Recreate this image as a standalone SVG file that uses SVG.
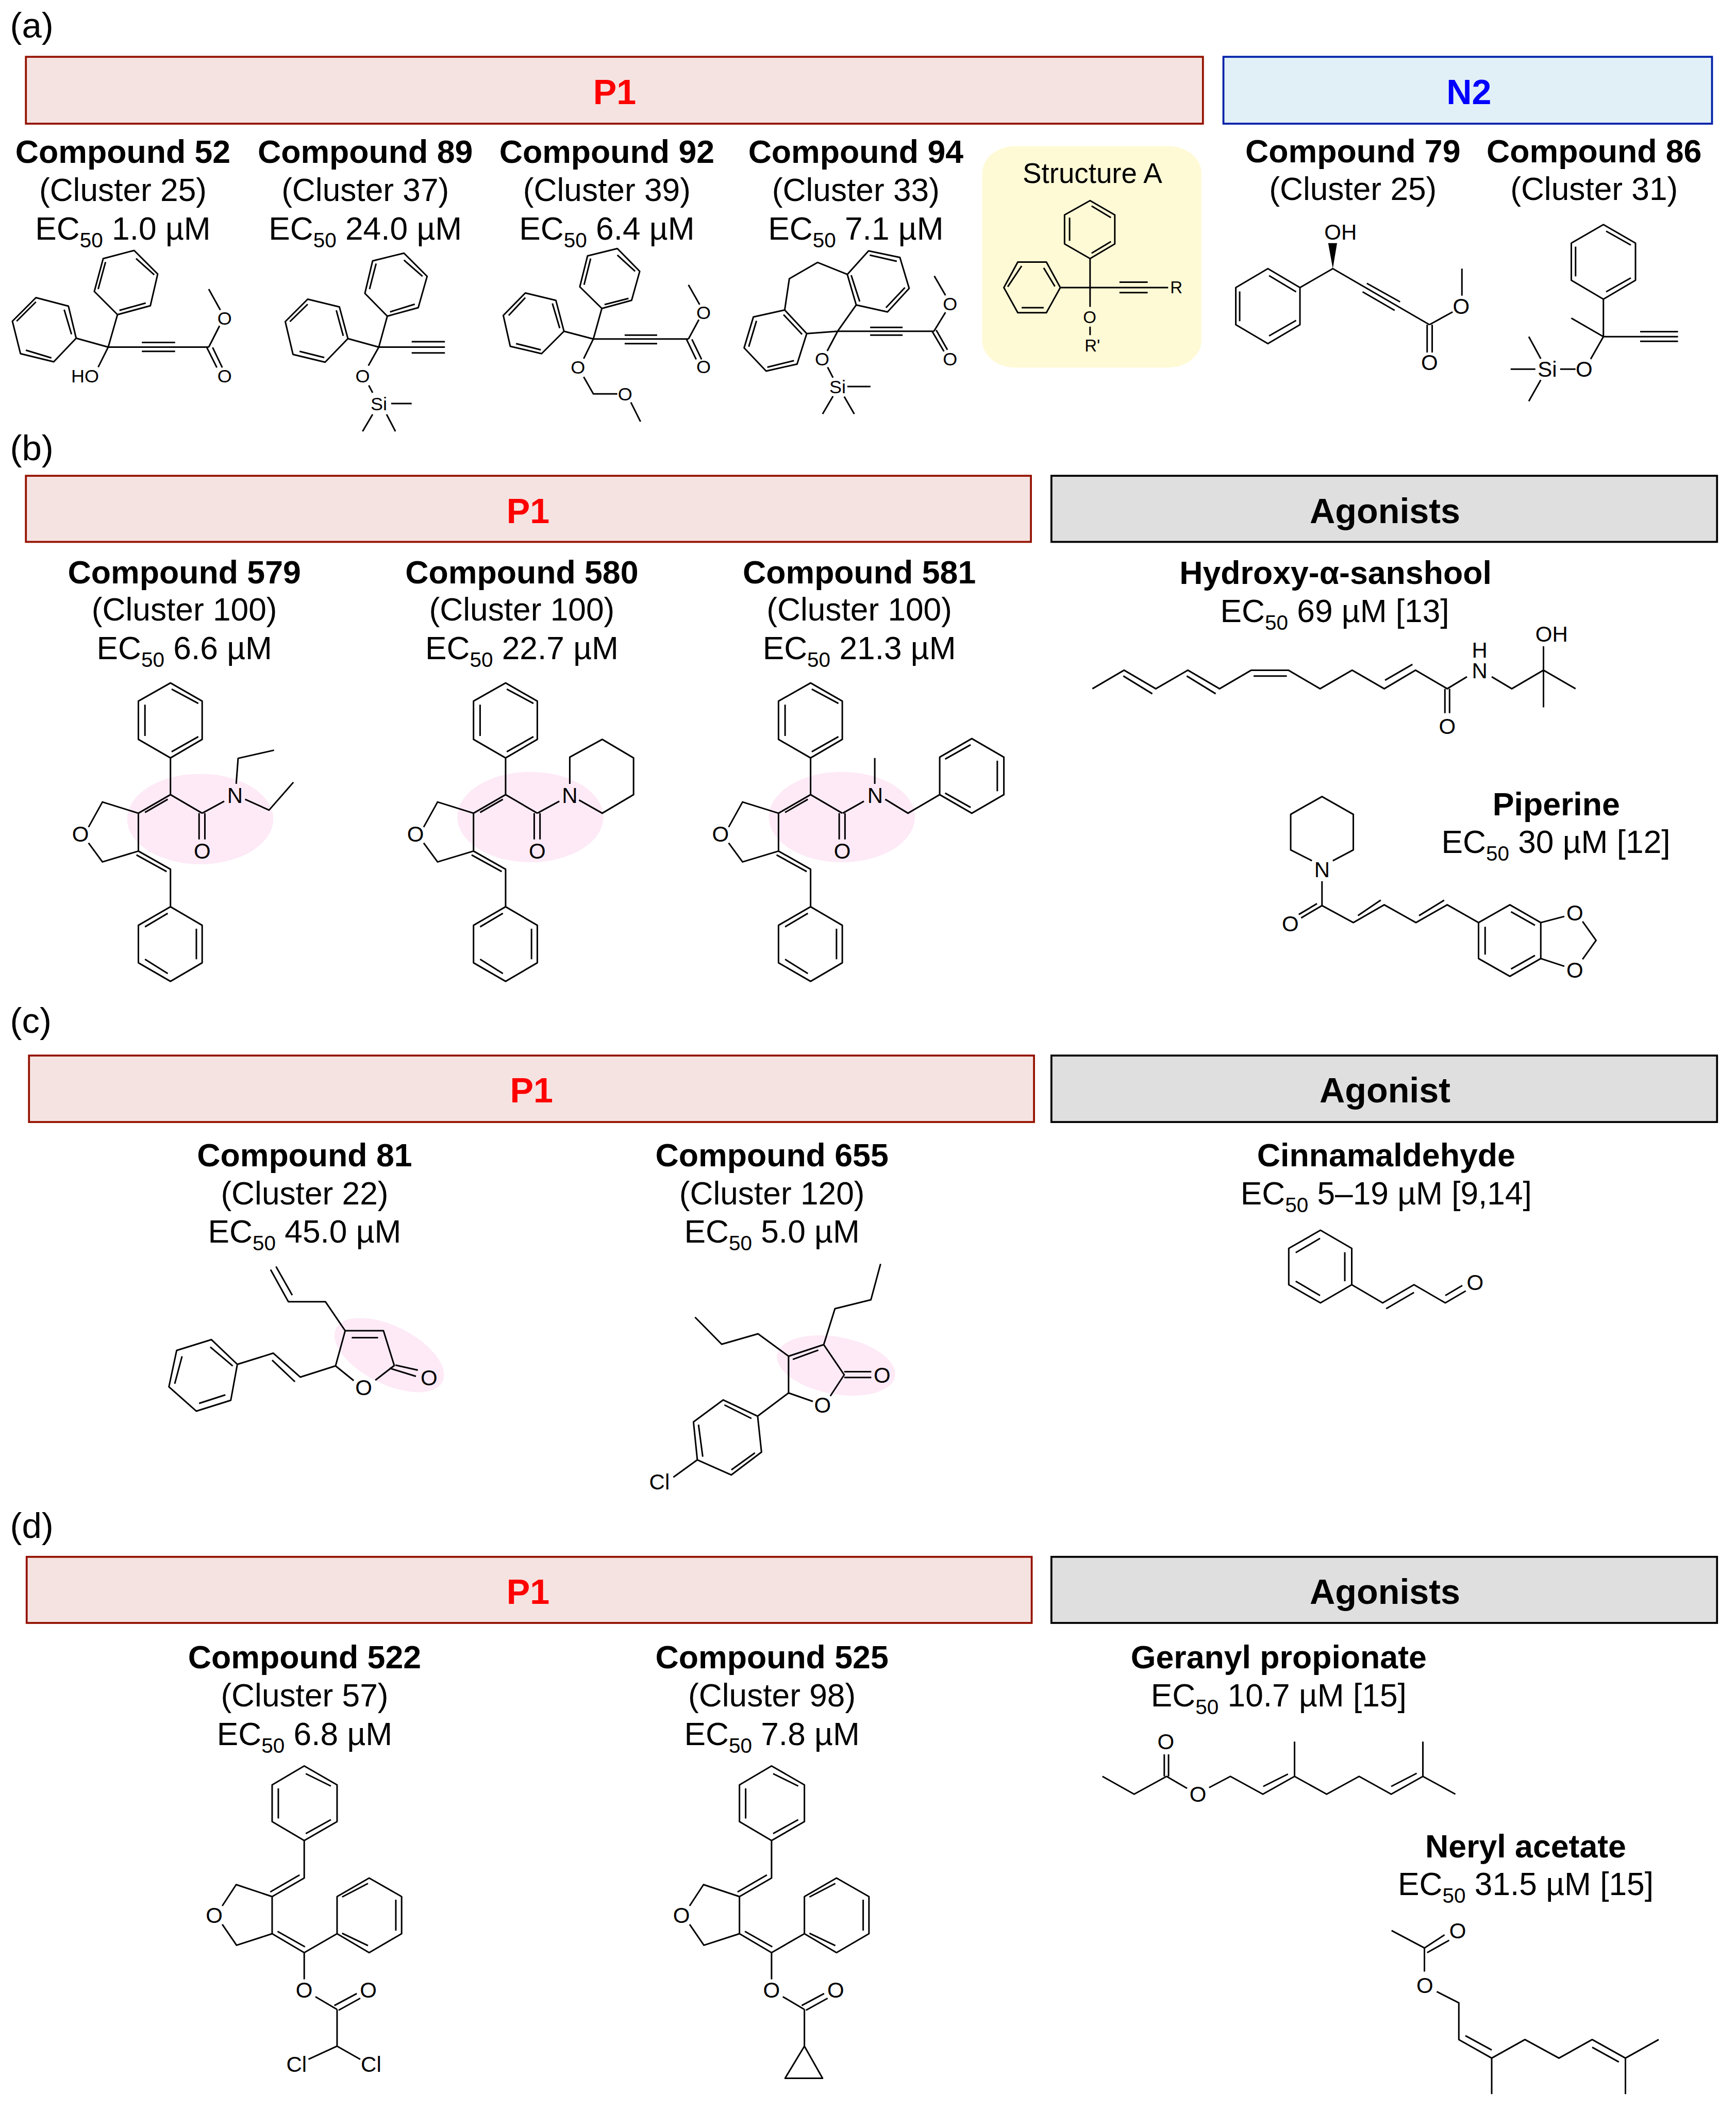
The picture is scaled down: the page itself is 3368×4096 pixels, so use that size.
<svg xmlns="http://www.w3.org/2000/svg" width="3368" height="4096" viewBox="0 0 3368 4096">
<style>
text{font-family:"Liberation Sans",Arial,sans-serif;fill:#000;text-anchor:middle}
.h{font-size:91px;font-weight:bold}
.n{font-size:83.5px;font-weight:bold}
.r{font-size:83px}
.s{font-size:54px}
.l{font-size:92px;text-anchor:start}
.a1{font-size:48px}
.a2{font-size:44px}
.a3{font-size:56px}
.b{fill:none;stroke:#000;stroke-width:4;stroke-linejoin:round}
.p1{fill:#f5e3e1;stroke:#941100;stroke-width:5}
.n2{fill:#e1f0f6;stroke:#0020a8;stroke-width:5}
.ag{fill:#dfdfdf;stroke:#000;stroke-width:5}
.pk{fill:#fdeaf6}
</style>
<defs>
<path id="bcore" class="b" d="M441 1767L523 1814V1913L441 1961L358 1913V1814ZM444 1783L513 1820M375 1823V1904M513 1906L444 1945M441 1961V2056L358 2104M434 2068L375 2102M441 2056L523 2104M358 2104L265 2075L229 2140M229 2181L265 2230L358 2202V2104M358 2202L441 2249V2346M353 2212L431 2255M441 2346L523 2394V2491L441 2539L358 2491V2394ZM375 2398L434 2363M508 2403V2482M375 2482L434 2519M515 2104V2172M530 2104V2172"/>
<path id="dcore" class="b" d="M787 4569L872 4618V4713L787 4762L704 4713V4618ZM791 4589L856 4621M720 4627V4705M856 4708L791 4744M787 4762V4859L704 4907M775 4851L699 4895M704 4907L611 4876L575 4931M575 4979L612 5033L704 5003V4907M704 5003L787 5052M718 4997L789 5037M787 5052L872 5003M872 5003V4907L955 4859L1039 4907V5003L955 5052L872 5003M885 4908L952 4873M1024 4915V4995M885 5002L952 5034M787 5052V5121M816 5166L872 5199M876 5201L932 5170M865 5189L923 5158M872 5199V5294"/>
</defs>
<g transform="scale(.74994)">
<g id="panel-a">
<text class="l" x="26" y="98">(a)</text>
<g id="hdr-a-p1"><rect class="p1" x="67" y="147" width="3045" height="173"/><text class="h" x="1590" y="269" style="fill:#f00">P1</text></g>
<g id="hdr-a-n2"><rect class="n2" x="3165" y="147" width="1264" height="173"/><text class="h" x="3800" y="269" style="fill:#00f">N2</text></g>

<g id="cmp52">
<text class="n" x="318" y="422">Compound 52</text><text class="r" x="318" y="520">(Cluster 25)</text>
<text class="r" x="318" y="620">EC<tspan class="s" dy="20">50</tspan><tspan dy="-20"> 1.0 µM</tspan></text>
<path class="b" d="M347 648L408 709L389 791L304 814L244 754L267 669ZM352 669L399 711M273 678L254 748M309 803L377 784M304 814L280 898L197 875L177 792L93 770L32 831L53 915L139 936L197 875M185 865L166 801M93 781L43 831M67 906L133 926M280 898L254 950M280 898H540M367 886H453M367 909H453M540 898L568 843M570 802L540 748M535 899L561 951M550 899L575 951"/>
<text class="a1" x="220" y="990">HO</text><text class="a1" x="581" y="840">O</text><text class="a1" x="581" y="990">O</text>
</g>

<g id="cmp89">
<text class="n" x="945" y="422">Compound 89</text><text class="r" x="945" y="520">(Cluster 37)</text>
<text class="r" x="945" y="620">EC<tspan class="s" dy="20">50</tspan><tspan dy="-20"> 24.0 µM</tspan></text>
<path class="b" d="M1045 655L1105 715L1082 796L1002 818L944 759L964 675ZM1045 673L1093 715M973 682L956 748M1009 807L1073 787M1002 818L980 898L900 876L878 794L796 774L738 832L758 917L841 937L900 876M888 869L870 803M796 787L750 832M775 909L839 925M980 898H1151M1065 884H1151M1065 913H1151M980 898L953 946M954 997L964 1016M1012 1044H1065M964 1072L938 1116M1000 1072L1023 1116"/>
<text class="a1" x="938" y="989">O</text><text class="a1" x="980" y="1062">Si</text>
</g>

<g id="cmp92">
<text class="n" x="1570" y="422">Compound 92</text><text class="r" x="1570" y="520">(Cluster 39)</text>
<text class="r" x="1570" y="620">EC<tspan class="s" dy="20">50</tspan><tspan dy="-20"> 6.4 µM</tspan></text>
<path class="b" d="M1597 643L1655 702L1634 777L1557 798L1500 742L1520 662ZM1597 660L1643 702M1528 669L1511 737M1564 788L1626 772M1557 798L1535 877L1459 857L1438 777L1359 758L1302 816L1320 896L1401 915L1459 857M1448 849L1429 785M1359 770L1316 816M1335 889L1399 905M1535 877H1781M1616 867H1700M1616 889H1700M1781 877L1808 827M1810 788L1781 737M1776 878L1801 930M1790 878L1815 930M1535 877L1510 928M1510 975L1535 1019H1597M1632 1041L1657 1091"/>
<text class="a1" x="1820" y="826">O</text><text class="a1" x="1820" y="965">O</text><text class="a1" x="1495" y="967">O</text><text class="a1" x="1617" y="1036">O</text>
</g>

<g id="cmp94">
<text class="n" x="2214" y="422">Compound 94</text><text class="r" x="2214" y="520">(Cluster 33)</text>
<text class="r" x="2214" y="620">EC<tspan class="s" dy="20">50</tspan><tspan dy="-20"> 7.1 µM</tspan></text>
<path class="b" d="M2247 649L2328 666L2352 746L2296 807L2215 789L2192 710ZM2250 660L2320 676M2341 744L2292 796M2224 780L2202 712M2192 710L2115 679L2042 721L2030 802L2087 863L2062 942L1982 960L1925 900L1949 820L2030 802M2027 814L2075 865M2054 933L1985 950M1937 897L1957 830M2087 863L2167 857L2215 789M2167 857H2416M2251 847H2335M2251 867H2335M2416 857L2446 808M2446 764L2417 714M2412 858L2442 909M2422 854L2451 905M2167 857L2140 908M2141 950L2155 977M2192 1000H2252M2155 1025L2128 1071M2184 1026L2210 1071"/>
<text class="a1" x="2458" y="803">O</text><text class="a1" x="2458" y="945">O</text><text class="a1" x="2127" y="945">O</text><text class="a1" x="2167" y="1018">Si</text>
</g>

<g id="structure-a">
<rect x="2541" y="378" width="567" height="573" rx="85" ry="70" fill="#fffad6"/>
<text x="2826" y="473" style="font-size:73px">Structure A</text>
<path class="b" d="M2820 519L2884 556V631L2820 669L2754 631V556ZM2824 533L2874 563M2767 563V623M2874 625L2824 655M2820 669V794M2743 744L2707 678H2633L2597 744L2633 809H2707ZM2700 693L2729 741M2607 742L2643 688M2643 796H2700M2743 744H3022M2896 730H2969M2896 757H2969M2820 845V867"/>
<text class="a2" x="3043" y="759">R</text><text class="a2" x="2819" y="836">O</text><text class="a2" x="2826" y="909">R'</text>
</g>

<g id="cmp79">
<text class="n" x="3500" y="420">Compound 79</text><text class="r" x="3500" y="518">(Cluster 25)</text>
<path d="M3448 695L3436 629H3459Z"/>
<path class="b" d="M3280 695L3363 744V840L3280 889L3197 840V744ZM3283 713L3353 755M3207 754V831M3353 829L3283 869M3363 744L3448 695L3698 840M3536 733L3622 781M3525 755L3608 803M3698 840L3758 807M3782 765V695M3692 840V912M3705 840V912"/>
<text class="a3" x="3468" y="620">OH</text><text class="a3" x="3780" y="812">O</text><text class="a3" x="3698" y="957">O</text>
</g>

<g id="cmp86">
<text class="n" x="4124" y="420">Compound 86</text><text class="r" x="4124" y="518">(Cluster 31)</text>
<path class="b" d="M4148 581L4231 629V725L4148 774L4065 725V629ZM4155 598L4219 634M4076 638V715M4219 719L4155 755M4148 774V871L4065 823M4148 871H4341M4243 858H4341M4243 883H4341M4148 871L4115 929M4076 955H4036M3972 955H3908M3986 928L3955 871M3986 983L3955 1038"/>
<text class="a3" x="4098" y="975">O</text><text class="a3" x="4003" y="975">Si</text>
</g>
</g>

<g id="panel-b">
<text class="l" x="26" y="1191">(b)</text>
<g id="hdr-b-p1"><rect class="p1" x="67" y="1231" width="2600" height="171"/><text class="h" x="1366" y="1353" style="fill:#f00">P1</text></g>
<g id="hdr-b-ag"><rect class="ag" x="2720" y="1231" width="1722" height="171"/><text class="h" x="3583" y="1353">Agonists</text></g>

<g id="cmp579">
<text class="n" x="477" y="1509">Compound 579</text><text class="r" x="477" y="1606">(Cluster 100)</text>
<text class="r" x="477" y="1706">EC<tspan class="s" dy="20">50</tspan><tspan dy="-20"> 6.6 µM</tspan></text>
<ellipse class="pk" cx="518" cy="2119" rx="189" ry="117"/>
<use href="#bcore"/>
<path class="b" d="M523 2104L580 2073M611 2028L616 1962L709 1941M634 2068L696 2096L759 2024"/>
<text class="a3" x="208" y="2178">O</text><text class="a3" x="523" y="2221">O</text><text class="a3" x="608" y="2077">N</text>
</g>

<g id="cmp580">
<text class="n" x="1350" y="1509">Compound 580</text><text class="r" x="1350" y="1606">(Cluster 100)</text>
<text class="r" x="1350" y="1706">EC<tspan class="s" dy="20">50</tspan><tspan dy="-20"> 22.7 µM</tspan></text>
<ellipse class="pk" cx="1372" cy="2114" rx="189" ry="117"/>
<use href="#bcore" x="867"/>
<path class="b" d="M1390 2104L1447 2073M1474 2028V1959L1558 1913L1639 1961V2056L1558 2104L1498 2070"/>
<text class="a3" x="1075" y="2178">O</text><text class="a3" x="1390" y="2221">O</text><text class="a3" x="1474" y="2077">N</text>
</g>

<g id="cmp581">
<text class="n" x="2223" y="1509">Compound 581</text><text class="r" x="2223" y="1606">(Cluster 100)</text>
<text class="r" x="2223" y="1706">EC<tspan class="s" dy="20">50</tspan><tspan dy="-20"> 21.3 µM</tspan></text>
<ellipse class="pk" cx="2178" cy="2114" rx="189" ry="117"/>
<use href="#bcore" x="1656"/>
<path class="b" d="M2180 2104L2235 2073M2263 2028V1961M2290 2068L2349 2104L2431 2056V1959L2514 1911L2597 1959V2056L2514 2104L2431 2056M2445 1964L2511 1927M2580 1968V2047M2445 2052L2511 2089"/>
<text class="a3" x="1864" y="2178">O</text><text class="a3" x="2179" y="2221">O</text><text class="a3" x="2264" y="2077">N</text>
</g>

<g id="sanshool">
<text class="n" x="3455" y="1511">Hydroxy-α-sanshool</text>
<text class="r" x="3453" y="1610">EC<tspan class="s" dy="20">50</tspan><tspan dy="-20"> 69 µM [13]</tspan></text>
<path class="b" d="M2826 1782L2908 1734L2990 1782L3073 1734L3155 1782L3237 1734H3333L3415 1782L3498 1734L3581 1782L3662 1734L3744 1782L3795 1751M2906 1749L2981 1795M3070 1749L3145 1795M3243 1749H3329M3583 1760L3654 1719M3738 1782V1845M3750 1782V1845M3859 1751L3911 1782L3993 1734L4076 1782M3993 1830V1672"/>
<text class="a3" x="3744" y="1899">O</text><text class="a3" x="3828" y="1755">N</text><text class="a3" x="3828" y="1702">H</text><text class="a3" x="4014" y="1660">OH</text>
</g>

<g id="piperine">
<text class="n" x="4026" y="2110">Piperine</text>
<text class="r" x="4025" y="2207">EC<tspan class="s" dy="20">50</tspan><tspan dy="-20"> 30 µM [12]</tspan></text>
<path class="b" d="M3394 2227L3339 2199V2107L3420 2061L3501 2107V2199L3448 2227M3420 2280V2343M3420 2343L3366 2375M3407 2338L3360 2366M3420 2343L3501 2387L3581 2341L3663 2387L3744 2341L3825 2387L3906 2341L3986 2387V2480L3906 2526L3825 2480V2387M3513 2369L3572 2329M3671 2369L3736 2329M3909 2359L3971 2394M3842 2398V2470M3971 2472L3909 2507M3986 2387L4047 2371M4094 2384L4129 2433L4094 2482M4047 2500L3986 2480"/>
<text class="a3" x="3420" y="2269">N</text><text class="a3" x="3338" y="2409">O</text><text class="a3" x="4074" y="2381">O</text><text class="a3" x="4074" y="2529">O</text>
</g>
</g>

<g id="panel-c">
<text class="l" x="26" y="2672">(c)</text>
<g id="hdr-c-p1"><rect class="p1" x="75" y="2731" width="2600" height="172"/><text class="h" x="1375" y="2852" style="fill:#f00">P1</text></g>
<g id="hdr-c-ag"><rect class="ag" x="2720" y="2731" width="1722" height="172"/><text class="h" x="3583" y="2852">Agonist</text></g>

<g id="cmp81">
<text class="n" x="788" y="3018">Compound 81</text><text class="r" x="788" y="3116">(Cluster 22)</text>
<text class="r" x="788" y="3215">EC<tspan class="s" dy="20">50</tspan><tspan dy="-20"> 45.0 µM</tspan></text>
<ellipse class="pk" cx="1007" cy="3506" rx="154" ry="75" transform="rotate(26.6 1007 3506)"/>
<path class="b" d="M700 3285L746 3368H842L893 3443M714 3277L756 3351M893 3443H992L1020 3533L971 3571M910 3461H978M868 3534L915 3572M868 3534L893 3443M1008 3540L1076 3561M1023 3532L1081 3545M868 3534L777 3563L707 3501L614 3530M763 3575L704 3519M614 3530L547 3466L457 3494L437 3588L508 3651L597 3623ZM602 3534L544 3485M471 3509L452 3580M515 3631L583 3609"/>
<text class="a3" x="941" y="3609">O</text><text class="a3" x="1110" y="3584">O</text>
</g>

<g id="cmp655">
<text class="n" x="1997" y="3018">Compound 655</text><text class="r" x="1997" y="3116">(Cluster 120)</text>
<text class="r" x="1997" y="3215">EC<tspan class="s" dy="20">50</tspan><tspan dy="-20"> 5.0 µM</tspan></text>
<ellipse class="pk" cx="2163" cy="3533" rx="155" ry="74" transform="rotate(10.6 2163 3533)"/>
<path class="b" d="M2278 3270L2253 3363L2160 3386L2131 3479L2040 3509V3604L2103 3626M2117 3493L2051 3517M2131 3479L2184 3557L2148 3612M2184 3549H2254M2184 3564H2254M2040 3509L1961 3451L1867 3478L1798 3408M2040 3604L1960 3664L1871 3622L1794 3679L1804 3777L1892 3816L1970 3757L1960 3664M1944 3670L1874 3635M1807 3686L1818 3769M1892 3803L1953 3759M1804 3777L1742 3822"/>
<text class="a3" x="2128" y="3655">O</text><text class="a3" x="2282" y="3578">O</text><text class="a3" x="1706" y="3854">Cl</text>
</g>

<g id="cinnamaldehyde">
<text class="n" x="3586" y="3018">Cinnamaldehyde</text>
<text class="r" x="3586" y="3116">EC<tspan class="s" dy="20">50</tspan><tspan dy="-20"> 5–19 µM [9,14]</tspan></text>
<path class="b" d="M3416 3183L3497 3230V3324L3416 3371L3334 3324V3230ZM3415 3204L3352 3241M3479 3240V3315M3352 3315L3415 3352M3497 3324L3577 3371L3658 3324L3739 3371L3792 3340M3586 3386L3658 3344M3739 3352L3783 3326"/>
<text class="a3" x="3816" y="3338">O</text>
</g>
</g>

<g id="panel-d">
<text class="l" x="26" y="3979">(d)</text>
<g id="hdr-d-p1"><rect class="p1" x="69" y="4028" width="2600" height="171"/><text class="h" x="1366" y="4150" style="fill:#f00">P1</text></g>
<g id="hdr-d-ag"><rect class="ag" x="2720" y="4028" width="1722" height="171"/><text class="h" x="3583" y="4150">Agonists</text></g>

<g id="cmp522">
<text class="n" x="788" y="4316">Compound 522</text><text class="r" x="788" y="4415">(Cluster 57)</text>
<text class="r" x="788" y="4515">EC<tspan class="s" dy="20">50</tspan><tspan dy="-20"> 6.8 µM</tspan></text>
<use href="#dcore"/>
<path class="b" d="M872 5294L798 5328M872 5294L932 5328"/>
<text class="a3" x="554" y="4975">O</text><text class="a3" x="787" y="5168">O</text><text class="a3" x="953" y="5168">O</text><text class="a3" x="767" y="5360">Cl</text><text class="a3" x="960" y="5360">Cl</text>
</g>

<g id="cmp525">
<text class="n" x="1997" y="4316">Compound 525</text><text class="r" x="1997" y="4415">(Cluster 98)</text>
<text class="r" x="1997" y="4515">EC<tspan class="s" dy="20">50</tspan><tspan dy="-20"> 7.8 µM</tspan></text>
<use href="#dcore" x="1209"/>
<path class="b" d="M2081 5294L2128 5377H2031Z"/>
<text class="a3" x="1763" y="4975">O</text><text class="a3" x="1996" y="5168">O</text><text class="a3" x="2162" y="5168">O</text>
</g>

<g id="geranyl">
<text class="n" x="3308" y="4316">Geranyl propionate</text>
<text class="r" x="3308" y="4415">EC<tspan class="s" dy="20">50</tspan><tspan dy="-20"> 10.7 µM [15]</tspan></text>
<path class="b" d="M2852 4596L2934 4642L3018 4596L3071 4627M3012 4596V4539M3023 4596V4539M3128 4625L3183 4596L3267 4642L3349 4596L3432 4642L3516 4596L3599 4642L3681 4596L3765 4642M3268 4622L3332 4590M3599 4622L3665 4588M3349 4596V4506M3681 4596V4506"/>
<text class="a3" x="3016" y="4526">O</text><text class="a3" x="3099" y="4662">O</text>
</g>

<g id="neryl">
<text class="n" x="3947" y="4806">Neryl acetate</text>
<text class="r" x="3947" y="4903">EC<tspan class="s" dy="20">50</tspan><tspan dy="-20"> 31.5 µM [15]</tspan></text>
<path class="b" d="M3600 4995L3685 5040L3737 5006M3692 5052L3749 5020M3685 5040V5101M3717 5153L3774 5182V5277L3859 5325V5418M3791 5267L3859 5304M3859 5325L3945 5277L4033 5325L4119 5277L4205 5325L4291 5277M4119 5297L4188 5335M4205 5325V5418"/>
<text class="a3" x="3771" y="5015">O</text><text class="a3" x="3686" y="5156">O</text>
</g>
</g>
</g>
</svg>
